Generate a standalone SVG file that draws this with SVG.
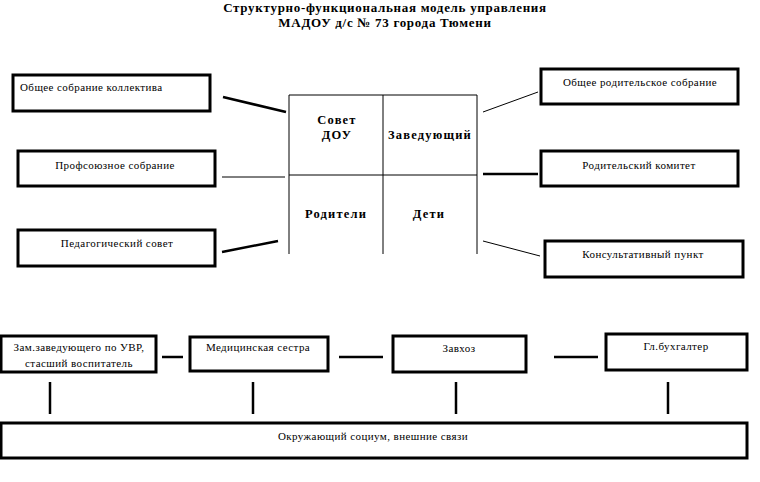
<svg xmlns="http://www.w3.org/2000/svg" width="760" height="482" viewBox="0 0 760 482">
<style>
.box{fill:#fff;stroke:#000;stroke-width:3}
.t{font-family:"Liberation Serif","Times New Roman",serif;font-size:11px;fill:#000;letter-spacing:0.42px}
.c{text-anchor:middle}
.b{font-family:"Liberation Serif","Times New Roman",serif;font-weight:bold;font-size:12.5px;fill:#000;text-anchor:middle;letter-spacing:1.2px}
.thin{stroke:#000;stroke-width:1;fill:none}
.thick{stroke:#000;stroke-width:2.5;fill:none}
</style>
<rect width="760" height="482" fill="#fff"/>
<g id="title">
<text class="b" x="385" y="12" style="font-size:13px;letter-spacing:0.7px">Структурно-функциональная модель управления</text>
<text class="b" x="385" y="27" style="font-size:13px;letter-spacing:0.7px">МАДОУ д/с № 73 города Тюмени</text>
</g>
<g id="connectors">
<line class="thick" x1="223" y1="97" x2="286" y2="112"/>
<line class="thin" x1="222" y1="177" x2="285" y2="177"/>
<line class="thick" x1="222" y1="252" x2="278" y2="241"/>
<line class="thin" x1="483" y1="112" x2="538" y2="92"/>
<line class="thick" x1="483" y1="174" x2="538" y2="174"/>
<line class="thin" x1="483" y1="241" x2="540" y2="256"/>
<line class="thick" x1="162" y1="357" x2="183" y2="357"/>
<line class="thick" x1="339" y1="357" x2="383" y2="357"/>
<line class="thick" x1="554" y1="357" x2="598" y2="357"/>
<line class="thick" x1="50" y1="382" x2="50" y2="414"/>
<line class="thick" x1="253" y1="382" x2="253" y2="414"/>
<line class="thick" x1="456" y1="382" x2="456" y2="414"/>
<line class="thick" x1="668" y1="382" x2="668" y2="414"/>
</g>
<g id="center">
<path class="thin" d="M289 254V95H477V254M383 95V254M289 175H477"/>
<text class="b" x="337" y="124">Совет</text>
<text class="b" x="337" y="139">ДОУ</text>
<text class="b" x="430" y="139">Заведующий</text>
<text class="b" x="336" y="218">Родители</text>
<text class="b" x="429" y="218">Дети</text>
</g>
<g id="n1"><rect class="box" x="13" y="75" width="197" height="36"/><text class="t" x="20" y="91">Общее собрание коллектива</text></g>
<g id="n2"><rect class="box" x="18" y="151" width="197" height="35"/><text class="t c" x="115" y="169">Профсоюзное собрание</text></g>
<g id="n3"><rect class="box" x="18" y="230" width="197" height="36"/><text class="t c" x="117" y="247">Педагогический совет</text></g>
<g id="n4"><rect class="box" x="541" y="69" width="197" height="35"/><text class="t c" x="640" y="86">Общее родительское собрание</text></g>
<g id="n5"><rect class="box" x="541" y="151" width="197" height="35"/><text class="t c" x="639" y="169">Родительский комитет</text></g>
<g id="n6"><rect class="box" x="545" y="241" width="198" height="36"/><text class="t c" x="643" y="258">Консультативный пункт</text></g>
<g id="n7"><rect class="box" x="1" y="336" width="155" height="36"/><text class="t c" x="79" y="351">Зам.заведующего  по УВР,</text><text class="t c" x="79" y="367">стасший воспитатель</text></g>
<g id="n8"><rect class="box" x="190" y="337" width="138" height="34"/><text class="t c" x="258" y="351">Медицинская сестра</text></g>
<g id="n9"><rect class="box" x="393" y="336" width="133" height="36"/><text class="t c" x="459" y="352">Завхоз</text></g>
<g id="n10"><rect class="box" x="606" y="334" width="141" height="36"/><text class="t c" x="676" y="350">Гл.бухгалтер</text></g>
<g id="n11"><rect class="box" x="1" y="423" width="746" height="35"/><text class="t c" x="373" y="440">Окружающий социум, внешние связи</text></g>
</svg>
